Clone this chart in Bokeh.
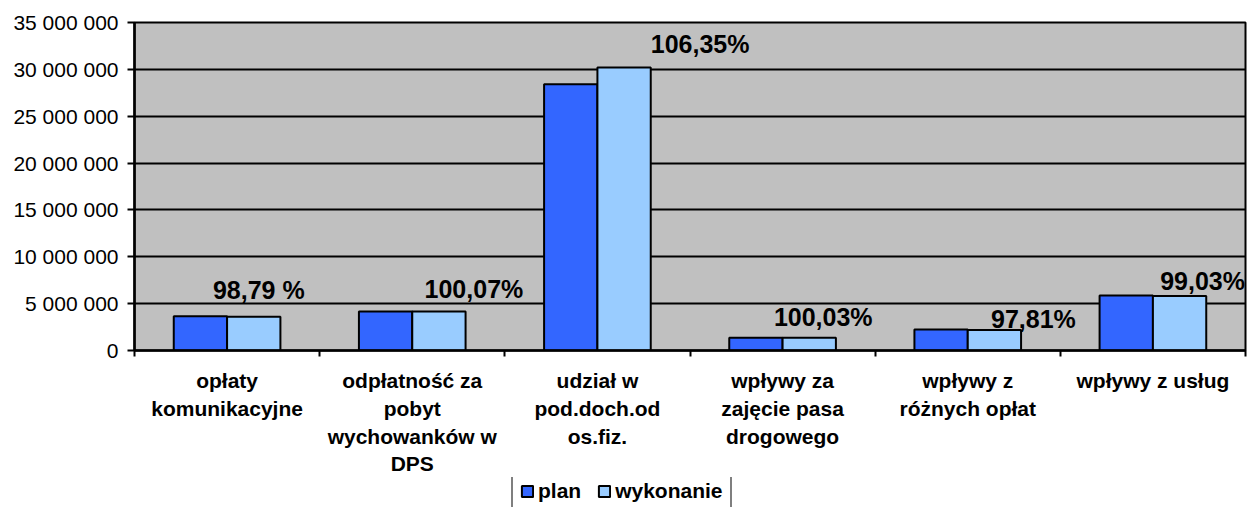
from bokeh.plotting import figure
from bokeh.layouts import column
from bokeh.models import ColumnDataSource, Range1d, FixedTicker, Legend, LegendItem, LinearAxis
from bokeh.core.properties import value
from bokeh.embed import file_html
from bokeh.resources import INLINE

# ---- data ----
categories = [
    "opłaty\nkomunikacyjne",
    "odpłatność za\npobyt\nwychowanków w\nDPS",
    "udział w\npod.doch.od\nos.fiz.",
    "wpływy za\nzajęcie pasa\ndrogowego",
    "wpływy z\nróżnych opłat",
    "wpływy z usług",
]
plan = [3650000, 4170000, 28400000, 1360000, 2240000, 5880000]
wykonanie = [3600000, 4170000, 30200000, 1360000, 2190000, 5820000]
percent_labels = ["98,79 %", "100,07%", "106,35%", "100,03%", "97,81%", "99,03%"]
series_names = ["plan", "wykonanie"]
y_ticks = [0, 5000000, 10000000, 15000000, 20000000, 25000000, 30000000, 35000000]
y_tick_labels = ["0", "5 000 000", "10 000 000", "15 000 000", "20 000 000",
                 "25 000 000", "30 000 000", "35 000 000"]

# ---- layout/style (not data) ----
BAR_W = 0.288
label_dx = [5, 35, 76, 14, 39, 23]        # px offsets of % labels from "wykonanie" bar centre
label_dy = [-27, -22, -23, -21, -11, -15]  # px offsets (baseline) from bar top
line_standoffs = [12, 2, 2, 1]             # px standoff of each category-label line
FONT = "Liberation Sans"
COLORS = ["#3366FF", "#99CCFF"]
W = 1247
MAIN_H = 477
LEG_H = 507 - MAIN_H
LEG_BOX_H = 35

n = len(categories)
centers = [i + 0.5 for i in range(n)]
src = ColumnDataSource(dict(
    xp=[c - BAR_W / 2 for c in centers],
    xw=[c + BAR_W / 2 for c in centers],
    plan=plan, wyk=wykonanie, lab=percent_labels,
    dx=label_dx, dy=label_dy,
))

p = figure(width=W, height=MAIN_H, output_backend="svg", toolbar_location=None,
           x_range=Range1d(0, n), y_range=Range1d(0, 35000000),
           min_border_left=134, min_border_right=2, min_border_top=22,
           min_border_bottom=MAIN_H - 350)

p.background_fill_color = "#C0C0C0"
p.border_fill_color = "white"
p.outline_line_color = "black"
p.outline_line_width = 2

p.vbar(x="xp", top="plan", width=BAR_W, source=src,
       fill_color=COLORS[0], line_color="black", line_width=2)
p.vbar(x="xw", top="wyk", width=BAR_W, source=src,
       fill_color=COLORS[1], line_color="black", line_width=2)

p.text(x="xw", y="wyk", text="lab", x_offset="dx", y_offset="dy", source=src,
       text_align="center", text_baseline="alphabetic",
       text_font=value(FONT), text_font_style="bold", text_font_size="25px",
       text_color="black")

# grid
p.xgrid.visible = False
p.ygrid.ticker = FixedTicker(ticks=y_ticks)
p.ygrid.grid_line_color = "black"
p.ygrid.grid_line_width = 2

# y axis
ya = p.yaxis[0]
ya.ticker = FixedTicker(ticks=y_ticks)
ya.major_label_overrides = {t: l for t, l in zip(y_ticks, y_tick_labels)}
ya.axis_line_color = "black"
ya.axis_line_width = 2.5
ya.major_tick_out = 7
ya.major_tick_in = 0
ya.major_tick_line_width = 2
ya.minor_tick_line_color = None
ya.major_label_standoff = 9
ya.major_label_text_font = FONT
ya.major_label_text_font_size = "21px"
ya.major_label_text_color = "black"

# x axis: one axis per text line, labels at centres, ticks at boundaries
split = [c.split("\n") for c in categories]
max_lines = max(len(s) for s in split)


def line_overrides(k):
    return {c: (s[k] if k < len(s) else "") for c, s in zip(centers, split)}


def style_labels(ax):
    ax.major_label_text_font = FONT
    ax.major_label_text_font_style = "bold"
    ax.major_label_text_font_size = "21px"
    ax.major_label_text_color = "black"
    ax.major_label_text_align = "center"


xa = p.xaxis[0]
xa.ticker = FixedTicker(ticks=centers, minor_ticks=list(range(n + 1)))
xa.major_label_overrides = line_overrides(0)
xa.axis_line_color = "black"
xa.axis_line_width = 2.5
xa.major_tick_line_color = None
xa.major_tick_out = 0
xa.major_tick_in = 0
xa.minor_tick_line_color = "black"
xa.minor_tick_line_width = 2
xa.minor_tick_out = 6
xa.minor_tick_in = 0
xa.major_label_standoff = line_standoffs[0]
style_labels(xa)

for k in range(1, max_lines):
    ax = LinearAxis(ticker=FixedTicker(ticks=centers),
                    major_label_overrides=line_overrides(k))
    ax.axis_line_color = None
    ax.major_tick_line_color = None
    ax.minor_tick_line_color = None
    ax.major_tick_out = 0
    ax.major_tick_in = 0
    ax.major_label_standoff = line_standoffs[k]
    style_labels(ax)
    p.add_layout(ax, "below")

# ---- legend strip (separate small figure so the legend is not clipped) ----
lf = figure(width=W, height=LEG_H, output_backend="svg", toolbar_location=None,
            x_range=Range1d(0, 1), y_range=Range1d(0, 1),
            min_border=0, min_border_left=0, min_border_right=0,
            min_border_top=0, min_border_bottom=0)
lf.axis.visible = False
lf.grid.visible = False
lf.outline_line_color = None
lf.background_fill_color = "white"
lf.border_fill_color = "white"

items = []
nan = float("nan")
for name, col in zip(series_names, COLORS):
    # legend-only renderer (NaN data draws nothing in the strip)
    r = lf.vbar(x=[nan], top=[nan], width=1, fill_color=col, line_color="black", line_width=2)
    items.append(LegendItem(label=name, renderers=[r]))

legend = Legend(items=items, orientation="horizontal",
                location=(377, LEG_H - LEG_BOX_H),
                glyph_width=14, glyph_height=14, label_standoff=4, spacing=16,
                padding=7, margin=0,
                border_line_color="black", border_line_width=2,
                background_fill_color="white", background_fill_alpha=1,
                label_text_font=FONT, label_text_font_style="bold",
                label_text_font_size="21px", label_text_color="black")
lf.add_layout(legend, "center")

layout = column(p, lf, spacing=0)
open("out.html", "w").write(file_html(layout, INLINE))
